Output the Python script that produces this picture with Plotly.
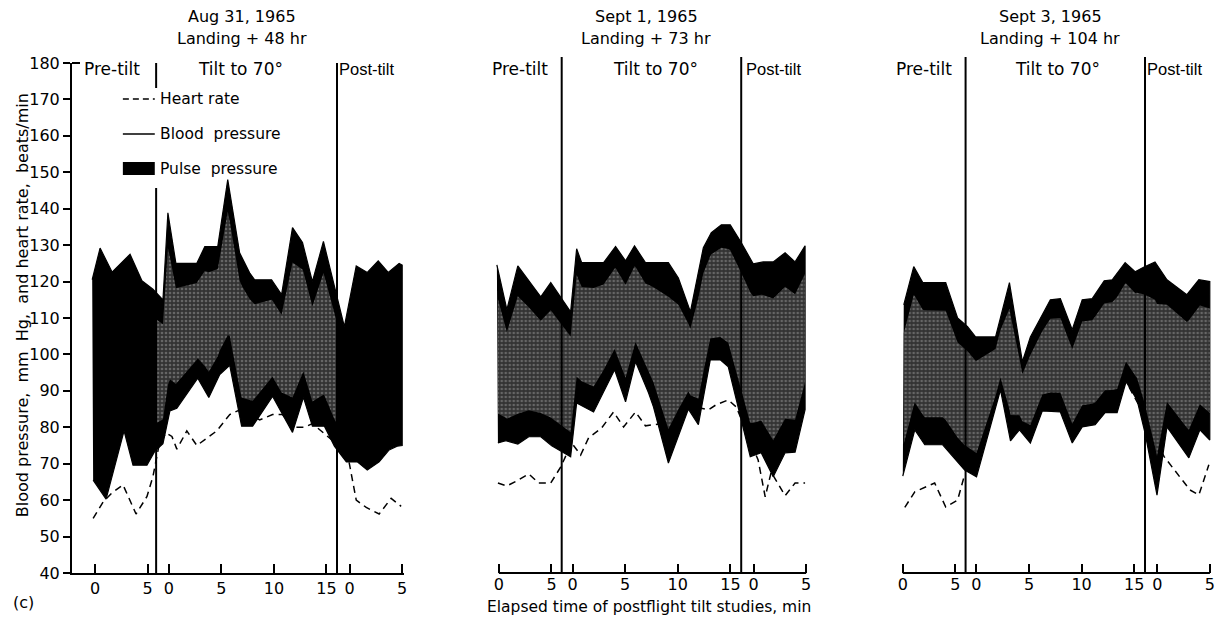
import numpy as np
import plotly.graph_objects as go

# ---------------- data (x = minutes along each panel's axis; tilt segment starts at 7.0, post-tilt at 24.2)
tick_vals = [0, 5, 7.0, 12.0, 17.0, 22.0, 24.2, 29.2]
tick_text = ["0", "5", "0", "5", "10", "15", "0", "5"]
y_ticks = list(range(40, 181, 10))

panel_dates = ["Aug 31, 1965", "Sept 1, 1965", "Sept 3, 1965"]
panel_landing = ["Landing + 48 hr", "Landing + 73 hr", "Landing + 104 hr"]
dividers = [[5.8, 23.0], [5.97, 23.03], [5.97, 23.03]]

# Panel 1 (Aug 31)
p1_sys_x = [-0.28, 0.47, 1.61, 3.32, 4.45, 5.5, 6.45, 6.92, 7.68, 9.67, 10.43, 11.66, 12.61, 13.74, 14.69,
            15.17, 16.78, 17.73, 18.77, 19.72, 20.66, 21.71, 23.7, 24.83, 25.88, 26.92, 27.87, 28.91, 29.2]
p1_sys_y = [120.5, 129.2, 122.6, 127.5, 120.2, 117.9, 115, 138.9, 125, 125, 129.6, 129.6, 148, 127.9, 122.4,
            120.5, 120.5, 116.4, 134.8, 130.7, 120, 131, 107.6, 124.3, 122.5, 125.7, 122.5, 125, 124.5]
p1_dia_x = [-0.19, 1.04, 2.75, 3.6, 4.93, 5.69, 6.45, 7.11, 7.77, 9.76, 10.81, 11.85, 12.8, 13.93, 14.98,
            16.87, 18.77, 19.81, 20.66, 21.8, 22.75, 23.89, 24.93, 25.88, 27.01, 27.96, 28.72, 29.2]
p1_dia_y = [65.5, 60.3, 79, 69.6, 69.6, 73.5, 75.5, 84.5, 85.2, 93.5, 88.2, 94.5, 97, 80.3, 80.3,
            88.5, 78.6, 88.2, 80.3, 80.3, 74.8, 70.5, 70.5, 68.3, 70.5, 73.8, 74.8, 75]
p1_hr_x = [-0.19, 0.76, 1.61, 2.65, 3.89, 4.93, 5.5, 6.07, 6.73, 7.3, 7.77, 8.72, 9.67, 11.56, 12.8, 13.93,
           15.64, 16.87, 17.82, 18.77, 19.91, 20.66, 23.98, 24.83, 25.78, 27.01, 28.15, 29.1]
p1_hr_y = [55, 59.5, 62, 64.2, 56.2, 61, 66.5, 75, 78.5, 77.5, 74, 79, 75, 79, 83.5, 85,
           82, 83.5, 83.5, 80, 80, 81, 73, 60, 58, 56.2, 60.5, 58.3]

# Panel 2 (Sept 1)
p2_sys_x = [-0.19, 0.76, 1.8, 3.98, 4.93, 6.82, 7.39, 7.87, 9.95, 11.09, 12.04, 12.89, 13.93, 16.11, 17.06,
            18.2, 19.43, 20.19, 21.14, 21.99, 23.03, 24.17, 25.12, 26.07, 27.2, 28.15, 29.1]
p2_sys_y = [124.6, 112.3, 124.3, 115.8, 119.7, 111.7, 129, 125.2, 125.2, 129.6, 125.7, 129.8, 125.2, 125.2, 121,
            111.7, 129.3, 133.4, 135.6, 135.6, 130.7, 124.9, 125.4, 125.4, 127.9, 125.4, 129.8]
p2_dia_x = [-0.09, 0.66, 1.8, 2.84, 3.98, 5.02, 6.82, 7.39, 9.0, 11.0, 12.04, 12.99, 14.22, 14.69, 16.11,
            18.01, 18.96, 20.09, 21.04, 21.8, 23.03, 23.89, 24.93, 26.07, 27.2, 28.15, 29.1]
p2_dia_y = [75.7, 76.3, 75.4, 77.4, 77.4, 74.9, 71.9, 86.7, 84.2, 95.8, 87, 98, 89.5, 85.6, 70.2,
            85, 80.7, 98.5, 98.5, 96.6, 82, 71.9, 73, 66.4, 73, 73.2, 84.8]
p2_hr_x = [-0.09, 0.76, 1.71, 2.84, 3.79, 4.93, 5.88, 6.92, 7.77, 8.53, 9.76, 10.9, 11.85, 12.99, 13.93,
           15.45, 18.01, 19.91, 20.66, 21.8, 22.56, 24.64, 25.31, 25.88, 27.2, 28.15, 29.1]
p2_hr_y = [64.7, 63.9, 65.3, 67.2, 64.7, 64.7, 69.1, 75.7, 72.4, 77.1, 79.8, 84.2, 80.1, 84.2, 80.4,
           81, 86, 84.8, 86.2, 87.5, 85.6, 71, 60.9, 67.7, 61.2, 64.7, 64.7]

# Panel 3 (Sept 3)
p3_sys_x = [0.09, 1.04, 1.9, 4.08, 5.21, 6.16, 6.92, 8.82, 10.14, 11.37, 12.13, 14.03, 14.98, 16.11, 17.06,
            18.01, 19.15, 19.91, 21.14, 22.09, 22.94, 23.98, 25.12, 27.01, 28.15, 29.19]
p3_sys_y = [113.6, 124.1, 119.7, 119.7, 110, 107.6, 104.8, 104.8, 119.7, 98, 104.8, 115, 115.3, 106.8, 115,
            115.3, 120.2, 120.5, 125.2, 122.7, 124, 125.4, 120.5, 116.4, 120.5, 120]
p3_dia_x = [0.0, 1.14, 2.09, 3.79, 5.88, 7.01, 9.29, 10.24, 11.09, 12.13, 13.27, 14.98, 16.11, 17.06, 18.29,
            19.24, 20.38, 21.23, 22.27, 23.03, 24.17, 25.12, 27.2, 28.25, 29.19]
p3_dia_y = [66.6, 79.3, 75.2, 75.2, 68.3, 66.4, 90.3, 76.3, 79.3, 75.7, 84.5, 84.2, 75.7, 80.1, 80.7,
            84, 84, 92.5, 87.5, 78.5, 61.4, 80.1, 71.6, 79.3, 76.5]
p3_hr_x = [0.19, 1.14, 3.03, 4.08, 5.21, 5.88, None, 21.52, 22.46, 24.83, 26.35, 27.3, 28.15, 29.1]
p3_hr_y = [58, 62.3, 64.7, 58.1, 60, 67, None, 91, 86, 72, 66.4, 62.8, 61.4, 69.7]

panels = [
    (p1_sys_x, p1_sys_y, p1_dia_x, p1_dia_y, p1_hr_x, p1_hr_y),
    (p2_sys_x, p2_sys_y, p2_dia_x, p2_dia_y, p2_hr_x, p2_hr_y),
    (p3_sys_x, p3_sys_y, p3_dia_x, p3_dia_y, p3_hr_x, p3_hr_y),
]
# x-span of the lighter stippled shading inside each band (panel 1 pre/post-tilt is solid black)
stipple_span = [(5.8, 23.0), (-1.0, 30.0), (-1.0, 30.0)]

# ---------------- layout geometry (pixels)
W, H = 1224, 620
ML, MR, MT, MB = 72, 9, 63, 47
PW, PH = W - ML - MR, H - MT - MB
S = 10.55                      # px per minute
XMIN, XMAX = -2.2, 29.4
origins = [95, 500, 905]       # pixel of pre-tilt 0 in each panel


def fx(p):
    return (p - ML) / PW


def fy(p):
    return (H - MB - p) / PH


FONT = "DejaVu Sans"
fig = go.Figure()
shapes, annots = [], []
layout_axes = {}

for k, (sx, sy, dx, dy, hx, hy) in enumerate(panels):
    n = "" if k == 0 else str(k + 1)
    xa, ya = "x" + n, "y" + n
    # heart rate (dashed) drawn first so the band covers it
    fig.add_trace(go.Scatter(x=hx, y=hy, mode="lines", xaxis=xa, yaxis=ya,
                             line=dict(color="black", width=1.5, dash="7px,5px"),
                             showlegend=False, hoverinfo="skip"))
    # pulse pressure band (black)
    fig.add_trace(go.Scatter(x=list(sx) + list(dx)[::-1], y=list(sy) + list(dy)[::-1],
                             mode="lines", fill="toself", fillcolor="black",
                             line=dict(color="black", width=1.2), xaxis=xa, yaxis=ya,
                             showlegend=False, hoverinfo="skip"))
    # stippled grey core of the band
    lo_x = max(sx[0], dx[0], stipple_span[k][0])
    hi_x = min(sx[-1], dx[-1], stipple_span[k][1])
    grid = np.union1d(np.union1d(sx, dx), [lo_x, hi_x])
    grid = grid[(grid >= lo_x) & (grid <= hi_x)]
    s_i = np.interp(grid, sx, sy)
    d_i = np.interp(grid, dx, dy)
    top = s_i - 0.17 * (s_i - d_i)
    bot = d_i + 0.17 * (s_i - d_i)
    fig.add_trace(go.Scatter(x=list(grid) + list(grid[::-1]), y=list(top) + list(bot[::-1]),
                             mode="lines", fill="toself", line=dict(width=0),
                             fillpattern=dict(shape=".", bgcolor="#333333", fgcolor="#9a9a9a",
                                              size=4, solidity=0.35),
                             xaxis=xa, yaxis=ya, showlegend=False, hoverinfo="skip"))

    o = origins[k]
    dom = [max(0.0, fx(o + XMIN * S)), min(1.0, fx(o + XMAX * S))]
    layout_axes["xaxis" + n] = dict(
        domain=dom, range=[XMIN, XMAX], tickmode="array", tickvals=tick_vals, ticktext=tick_text,
        ticks="inside", ticklen=9, tickwidth=1.5, tickcolor="black",
        showline=(k == 0), linecolor="black", linewidth=2, showgrid=False, zeroline=False,
        tickfont=dict(family=FONT, size=16, color="black"), anchor=ya)
    yax = dict(domain=[0, 1], range=[40, 180], showgrid=False, zeroline=False, anchor=xa)
    if k == 0:
        yax.update(tickmode="array", tickvals=y_ticks, ticks="outside", ticklen=7, tickwidth=1.5,
                   tickcolor="black", showline=True, linecolor="black", linewidth=2,
                   tickfont=dict(family=FONT, size=16, color="black"))
    else:
        yax.update(visible=False)
    layout_axes["yaxis" + n] = yax

    # x axis line for panels 2 and 3 (starts at pre-tilt 0)
    if k > 0:
        shapes.append(dict(type="line", xref=xa, yref="paper", x0=0, x1=29.2, y0=0, y1=0,
                           line=dict(color="black", width=2)))
    # segment divider lines
    for j, dv in enumerate(dividers[k]):
        if k == 0 and j == 0:
            segs = [(fy(63), fy(88)), (fy(188), fy(574))]
        elif k == 0:
            segs = [(fy(63), fy(574))]
        else:
            segs = [(fy(57), fy(574))]
        for (ya1, ya0) in segs:
            shapes.append(dict(type="line", xref=xa, yref="paper", x0=dv, x1=dv, y0=ya0, y1=ya1,
                               line=dict(color="black", width=2)))

    # titles
    cx = o + 14.0 * S
    annots.append(dict(text=panel_dates[k], x=fx(cx), y=fy(16),
                       font=dict(family=FONT, size=16, color="black")))
    annots.append(dict(text=panel_landing[k], x=fx(cx), y=fy(39),
                       font=dict(family=FONT, size=16, color="black")))

# segment labels
seg_font = dict(family=FONT, size=17, color="black")
post_font = dict(family="Liberation Sans", size=16.5, color="black")
label_y = fy(69)
annots += [
    dict(text="Pre-tilt", x=fx(82), y=label_y, xanchor="left", font=seg_font),
    dict(text="Tilt to 70°", x=fx(241), y=label_y, font=seg_font),
    dict(text="Post-tilt", x=fx(338), y=label_y, xanchor="left", font=post_font),
    dict(text="Pre-tilt", x=fx(521), y=label_y, font=seg_font),
    dict(text="Tilt to 70°", x=fx(657), y=label_y, font=seg_font),
    dict(text="Post-tilt", x=fx(746), y=label_y, xanchor="left", font=post_font),
    dict(text="Pre-tilt", x=fx(926), y=label_y, font=seg_font),
    dict(text="Tilt to 70°", x=fx(1060), y=label_y, font=seg_font),
    dict(text="Post-tilt", x=fx(1148), y=label_y, xanchor="left", font=post_font),
]

# legend (panel 1)
leg_font = dict(family=FONT, size=15.5, color="black")
shapes += [
    dict(type="line", xref="paper", yref="paper", x0=fx(123), x1=fx(155), y0=fy(99), y1=fy(99),
         line=dict(color="black", width=1.5, dash="6px,4px")),
    dict(type="line", xref="paper", yref="paper", x0=fx(123), x1=fx(155), y0=fy(134), y1=fy(134),
         line=dict(color="black", width=1.5)),
    dict(type="rect", xref="paper", yref="paper", x0=fx(123), x1=fx(155), y0=fy(175), y1=fy(162),
         fillcolor="black", line=dict(width=0)),
    dict(type="line", xref="paper", yref="paper", x0=fx(72), x1=fx(80), y0=fy(63), y1=fy(63),
         line=dict(color="black", width=2)),
]
annots += [
    dict(text="Heart rate", x=fx(158), y=fy(99), xanchor="left", font=leg_font),
    dict(text="Blood  pressure", x=fx(158), y=fy(134), xanchor="left", font=leg_font),
    dict(text="Pulse  pressure", x=fx(158), y=fy(169), xanchor="left", font=leg_font),
]

# axis titles and panel letter
annots += [
    dict(text="Blood pressure,  mm  Hg,  and heart rate,  beats/min", x=fx(22), y=fy(305),
         textangle=-90, font=dict(family=FONT, size=16, color="black")),
    dict(text="Elapsed time of postflight tilt studies, min", x=fx(651), y=fy(607),
         font=dict(family=FONT, size=15.5, color="black")),
    dict(text="(c)", x=fx(23), y=fy(602), font=dict(family=FONT, size=16, color="black")),
]
for a in annots:
    a.setdefault("xref", "paper")
    a.setdefault("yref", "paper")
    a.setdefault("showarrow", False)
    a.setdefault("xanchor", "center")
    a.setdefault("yanchor", "middle")

fig.update_layout(width=W, height=H, margin=dict(l=ML, r=MR, t=MT, b=MB),
                  paper_bgcolor="white", plot_bgcolor="white", showlegend=False,
                  shapes=shapes, annotations=annots, **layout_axes)
fig.write_html("out.html", config={"displayModeBar": False},
               post_script="document.body.style.margin='0';")
